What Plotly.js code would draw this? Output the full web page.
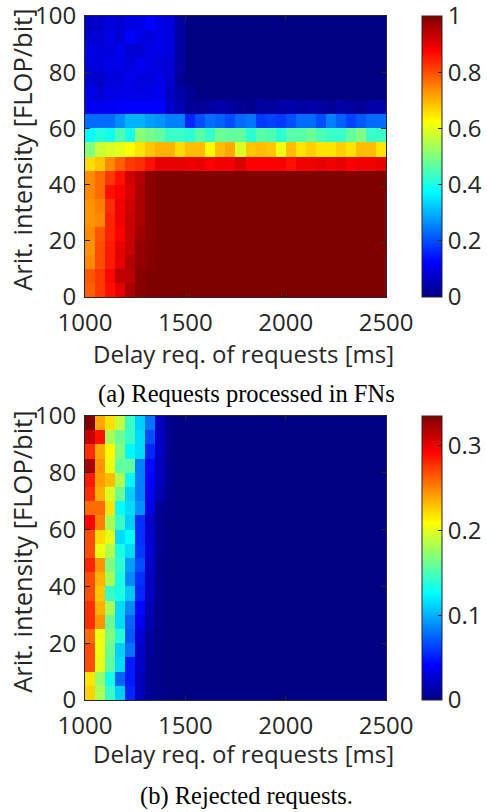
<!DOCTYPE html>
<html>
<head>
<meta charset="utf-8">
<script src="https://cdn.plot.ly/plotly-3.0.1.min.js"></script>
<style>html,body{margin:0;padding:0;background:#fff;}#chart{width:487px;height:812px;}</style>
</head>
<body>
<div id="chart"></div>
<script>
// Delay requirement (column centres, ms)
const delayReq = [1025,1075,1125,1175,1225,1275,1325,1375,1425,1475,1525,1575,1625,1675,1725,1775,1825,1875,1925,1975,2025,2075,2125,2175,2225,2275,2325,2375,2425,2475];
// Arithmetic intensity (row centres, FLOP/bit)
const aritIntensity = [2.5,7.5,12.5,17.5,22.5,27.5,32.5,37.5,42.5,47.5,52.5,57.5,62.5,67.5,72.5,77.5,82.5,87.5,92.5,97.5];
const xTicks = [1000,1500,2000,2500];
const yTicks = [0,20,40,60,80,100];
const cbTicksA = [0,0.2,0.4,0.6,0.8,1];
const cbTicksB = [0,0.1,0.2,0.3];

// (a) fraction of requests processed in FNs, rows bottom (0-5) to top (95-100)
const processed = [
 [0.78,0.82,0.86,0.90,0.96,0.99,1,1,1,1,1,1,1,1,1,1,1,1,1,1,1,1,1,1,1,1,1,1,1,1],
 [0.79,0.82,0.87,0.94,0.94,0.99,1,1,1,1,1,1,1,1,1,1,1,1,1,1,1,1,1,1,1,1,1,1,1,1],
 [0.74,0.80,0.85,0.90,0.95,0.98,0.99,1,1,1,1,1,1,1,1,1,1,1,1,1,1,1,1,1,1,1,1,1,1,1],
 [0.73,0.80,0.85,0.90,0.93,0.98,0.99,1,1,1,1,1,1,1,1,1,1,1,1,1,1,1,1,1,1,1,1,1,1,1],
 [0.74,0.79,0.84,0.875,0.93,0.97,0.99,1,1,1,1,1,1,1,1,1,1,1,1,1,1,1,1,1,1,1,1,1,1,1],
 [0.73,0.74,0.84,0.89,0.93,0.96,0.99,1,1,1,1,1,1,1,1,1,1,1,1,1,1,1,1,1,1,1,1,1,1,1],
 [0.73,0.75,0.83,0.89,0.92,0.96,0.99,1,1,1,1,1,1,1,1,1,1,1,1,1,1,1,1,1,1,1,1,1,1,1],
 [0.74,0.77,0.86,0.88,0.91,0.96,0.99,1,1,1,1,1,1,1,1,1,1,1,1,1,1,1,1,1,1,1,1,1,1,1],
 [0.74,0.77,0.82,0.86,0.92,0.95,0.99,1,1,1,1,1,1,1,1,1,1,1,1,1,1,1,1,1,1,1,1,1,1,1],
 [0.66,0.68,0.74,0.78,0.82,0.83,0.86,0.90,0.90,0.90,0.89,0.90,0.875,0.89,0.89,0.91,0.875,0.875,0.875,0.88,0.86,0.89,0.89,0.90,0.89,0.90,0.88,0.89,0.89,0.90],
 [0.50,0.57,0.59,0.60,0.625,0.65,0.68,0.70,0.70,0.66,0.69,0.69,0.63,0.69,0.71,0.59,0.68,0.69,0.68,0.61,0.69,0.65,0.67,0.65,0.65,0.67,0.65,0.69,0.69,0.65],
 [0.375,0.41,0.39,0.45,0.40,0.51,0.49,0.47,0.43,0.43,0.42,0.46,0.43,0.48,0.47,0.47,0.42,0.46,0.45,0.42,0.46,0.46,0.48,0.45,0.43,0.43,0.47,0.50,0.43,0.43],
 [0.23,0.23,0.23,0.26,0.30,0.30,0.28,0.27,0.25,0.25,0.16,0.20,0.23,0.22,0.20,0.23,0.24,0.18,0.19,0.18,0.20,0.23,0.23,0.20,0.25,0.22,0.19,0.21,0.23,0.23],
 [0.11,0.11,0.11,0.12,0.125,0.125,0.125,0.125,0.07,0.05,0.02,0.02,0.03,0.04,0.03,0.02,0.01,0.03,0.025,0.035,0.04,0.03,0.035,0.03,0.02,0.035,0.025,0.02,0.04,0.035],
 [0.10,0.08,0.10,0.10,0.10,0.10,0.10,0.11,0.06,0.04,0.02,0,0,0,0,0,0,0,0,0,0,0,0,0,0,0,0,0,0,0],
 [0.08,0.07,0.09,0.09,0.11,0.09,0.09,0.10,0.08,0.02,0,0,0,0,0,0,0,0,0,0,0,0,0,0,0,0,0,0,0,0],
 [0.09,0.09,0.10,0.10,0.09,0.11,0.10,0.09,0.08,0.03,0,0,0,0,0,0,0,0,0,0,0,0,0,0,0,0,0,0,0,0],
 [0.10,0.09,0.09,0.11,0.08,0.08,0.10,0.10,0.09,0.03,0,0,0,0,0,0,0,0,0,0,0,0,0,0,0,0,0,0,0,0],
 [0.08,0.08,0.10,0.08,0.125,0.10,0.09,0.10,0.09,0.03,0,0,0,0,0,0,0,0,0,0,0,0,0,0,0,0,0,0,0,0],
 [0.07,0.07,0.09,0.08,0.10,0.10,0.125,0.10,0.09,0.03,0,0,0,0,0,0,0,0,0,0,0,0,0,0,0,0,0,0,0,0]
];

// (b) fraction of rejected requests, rows bottom (0-5) to top (95-100)
const rejected = [
 [0.224,0.181,0.144,0.110,0.054,0.020,0.005,0.002,0,0,0,0,0,0,0,0,0,0,0,0,0,0,0,0,0,0,0,0,0,0],
 [0.218,0.174,0.131,0.074,0.050,0.020,0.005,0.002,0,0,0,0,0,0,0,0,0,0,0,0,0,0,0,0,0,0,0,0,0,0],
 [0.268,0.201,0.157,0.114,0.050,0.023,0.005,0.002,0,0,0,0,0,0,0,0,0,0,0,0,0,0,0,0,0,0,0,0,0,0],
 [0.268,0.204,0.161,0.110,0.080,0.023,0.008,0.002,0,0,0,0,0,0,0,0,0,0,0,0,0,0,0,0,0,0,0,0,0,0],
 [0.258,0.204,0.168,0.137,0.070,0.027,0.008,0.002,0,0,0,0,0,0,0,0,0,0,0,0,0,0,0,0,0,0,0,0,0,0],
 [0.278,0.245,0.161,0.114,0.074,0.037,0.013,0.003,0,0,0,0,0,0,0,0,0,0,0,0,0,0,0,0,0,0,0,0,0,0],
 [0.278,0.235,0.181,0.114,0.087,0.044,0.016,0.003,0,0,0,0,0,0,0,0,0,0,0,0,0,0,0,0,0,0,0,0,0,0],
 [0.268,0.228,0.144,0.134,0.107,0.054,0.020,0.003,0,0,0,0,0,0,0,0,0,0,0,0,0,0,0,0,0,0,0,0,0,0],
 [0.268,0.235,0.181,0.134,0.087,0.057,0.020,0.004,0,0,0,0,0,0,0,0,0,0,0,0,0,0,0,0,0,0,0,0,0,0],
 [0.281,0.245,0.168,0.141,0.094,0.067,0.023,0.004,0,0,0,0,0,0,0,0,0,0,0,0,0,0,0,0,0,0,0,0,0,0],
 [0.268,0.204,0.184,0.134,0.114,0.060,0.027,0.005,0,0,0,0,0,0,0,0,0,0,0,0,0,0,0,0,0,0,0,0,0,0],
 [0.268,0.221,0.201,0.114,0.126,0.057,0.027,0.005,0,0,0,0,0,0,0,0,0,0,0,0,0,0,0,0,0,0,0,0,0,0],
 [0.293,0.251,0.181,0.144,0.110,0.057,0.023,0.005,0,0,0,0,0,0,0,0,0,0,0,0,0,0,0,0,0,0,0,0,0,0],
 [0.258,0.258,0.218,0.126,0.114,0.090,0.034,0.005,0.002,0,0,0,0,0,0,0,0,0,0,0,0,0,0,0,0,0,0,0,0,0],
 [0.278,0.235,0.198,0.161,0.110,0.084,0.037,0.016,0.003,0,0,0,0,0,0,0,0,0,0,0,0,0,0,0,0,0,0,0,0,0],
 [0.285,0.241,0.231,0.184,0.124,0.084,0.042,0.020,0.003,0,0,0,0,0,0,0,0,0,0,0,0,0,0,0,0,0,0,0,0,0],
 [0.322,0.245,0.204,0.157,0.157,0.084,0.044,0.020,0.003,0,0,0,0,0,0,0,0,0,0,0,0,0,0,0,0,0,0,0,0,0],
 [0.278,0.238,0.211,0.168,0.124,0.114,0.054,0.023,0.003,0,0,0,0,0,0,0,0,0,0,0,0,0,0,0,0,0,0,0,0,0],
 [0.312,0.288,0.181,0.161,0.144,0.114,0.067,0.023,0.003,0,0,0,0,0,0,0,0,0,0,0,0,0,0,0,0,0,0,0,0,0],
 [0.335,0.238,0.220,0.190,0.144,0.110,0.080,0.020,0.003,0,0,0,0,0,0,0,0,0,0,0,0,0,0,0,0,0,0,0,0,0]
];

const jet = [
 [0,'rgb(0,0,131)'],[0.125,'rgb(0,0,255)'],[0.375,'rgb(0,255,255)'],
 [0.625,'rgb(255,255,0)'],[0.875,'rgb(255,0,0)'],[1,'rgb(128,0,0)']
];

const W = 487, H = 812;
const px = v => v / W;
const py = v => (H - v) / H;
const dark = '#262626';
const tickFont = {family: 'Open Sans, Noto Sans, sans-serif', size: 24, color: dark};

function cbar(top, bottom, ticks) {
  return {
    x: px(425), xanchor: 'left', xref: 'paper', xpad: 0,
    y: py(top), yanchor: 'top', ypad: 0,
    len: (bottom - top) / H, lenmode: 'fraction',
    thickness: 20, thicknessmode: 'pixels',
    outlinecolor: dark, outlinewidth: 1,
    ticks: 'inside', ticklen: 4, tickcolor: dark, tickwidth: 1,
    tickvals: ticks, tickfont: tickFont, ticklabelposition: 'outside',
    ticklabeloverflow: 'allow'
  };
}

const traces = [
  {type: 'heatmap', x: delayReq, y: aritIntensity, z: processed,
   xaxis: 'x', yaxis: 'y', colorscale: jet, zmin: 0, zmax: 1, zsmooth: false,
   colorbar: cbar(16, 297, cbTicksA), hoverinfo: 'skip'},
  {type: 'heatmap', x: delayReq, y: aritIntensity, z: rejected,
   xaxis: 'x2', yaxis: 'y2', colorscale: jet, zmin: 0, zmax: 0.335, zsmooth: false,
   colorbar: cbar(416, 700, cbTicksB), hoverinfo: 'skip'}
];

function xax(anchor) {
  return {domain: [px(85.5), px(388.5)], range: [1000, 2500], tickvals: xTicks,
    ticks: 'inside', ticklen: 5, tickcolor: dark, tickwidth: 1, mirror: 'allticks',
    showline: true, linecolor: dark, linewidth: 1, showgrid: false, zeroline: false,
    tickfont: tickFont, anchor: anchor, ticklabelstandoff: 4, ticklabeloverflow: 'allow'};
}
function yax(top, bottom, anchor) {
  return {domain: [py(bottom), py(top)], range: [0, 100], tickvals: yTicks,
    ticks: 'inside', ticklen: 5, tickcolor: dark, tickwidth: 1, mirror: 'allticks',
    showline: true, linecolor: dark, linewidth: 1, showgrid: false, zeroline: false,
    tickfont: tickFont, anchor: anchor, ticklabelstandoff: 3, ticklabeloverflow: 'allow'};
}

const axTitleFont = {family: 'Open Sans, Noto Sans, sans-serif', size: 24, color: dark};
const yTitleFont = {family: 'Open Sans, Noto Sans, sans-serif', size: 25.5, color: dark};
const capFont = {family: 'Liberation Serif, Times New Roman, serif', size: 24.5, color: '#000'};

const layout = {
  width: W, height: H,
  margin: {l: 0, r: 0, t: 0, b: 0},
  paper_bgcolor: '#fff', plot_bgcolor: '#fff',
  showlegend: false,
  xaxis: xax('y'), yaxis: yax(16, 297, 'x'),
  xaxis2: xax('y2'), yaxis2: yax(416, 700, 'x2'),
  annotations: [
    {text: 'Delay req. of requests [ms]', x: px(245), y: py(353), xref: 'paper', yref: 'paper',
     xanchor: 'center', yanchor: 'middle', showarrow: false, font: axTitleFont},
    {text: 'Delay req. of requests [ms]', x: px(245), y: py(753), xref: 'paper', yref: 'paper',
     xanchor: 'center', yanchor: 'middle', showarrow: false, font: axTitleFont},
    {text: 'Arit. intensity [FLOP/bit]', x: px(22), y: py(150), xref: 'paper', yref: 'paper',
     xanchor: 'center', yanchor: 'middle', textangle: -90, showarrow: false, font: yTitleFont},
    {text: 'Arit. intensity [FLOP/bit]', x: px(22), y: py(552), xref: 'paper', yref: 'paper',
     xanchor: 'center', yanchor: 'middle', textangle: -90, showarrow: false, font: yTitleFont},
    {text: '(a) Requests processed in FNs', x: px(248), y: py(394), xref: 'paper', yref: 'paper',
     xanchor: 'center', yanchor: 'middle', showarrow: false, font: capFont},
    {text: '(b) Rejected requests.', x: px(248), y: py(796), xref: 'paper', yref: 'paper',
     xanchor: 'center', yanchor: 'middle', showarrow: false, font: capFont}
  ]
};

Plotly.newPlot('chart', traces, layout, {displayModeBar: false, staticPlot: true});
</script>
</body>
</html>
